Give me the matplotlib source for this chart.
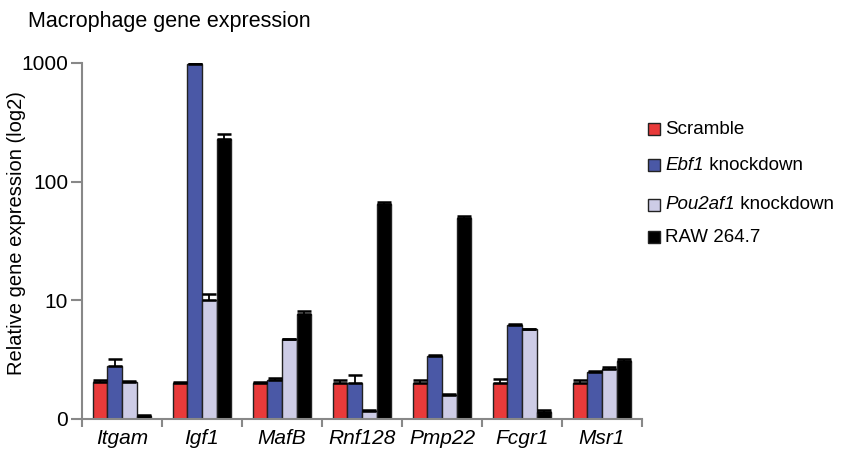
import numpy as np
import matplotlib
matplotlib.use('Agg')
import matplotlib.pyplot as plt
from matplotlib.patches import Rectangle

plt.rcParams['font.family'] = ['Liberation Sans', 'DejaVu Sans']

# Genes and measured fold expression (upper error only)
genes = ['Itgam', 'Igf1', 'MafB', 'Rnf128', 'Pmp22', 'Fcgr1', 'Msr1']
# (italic gene part, plain remainder)
conditions = [('', 'Scramble'), ('Ebf1', ' knockdown'),
              ('Pou2af1', ' knockdown'), ('', 'RAW 264.7')]

scramble = [2.04, 2.00, 2.02, 2.01, 2.02, 2.01, 2.01]
ebf1_kd = [2.80, 985, 2.13, 2.01, 3.38, 6.15, 2.50]
pou2af1_kd = [2.07, 10.0, 4.69, 1.17, 1.59, 5.70, 2.65]
raw264 = [1.07, 228, 7.67, 64.7, 49.1, 1.15, 3.08]

scramble_err = [0.08, 0.06, 0.04, 0.13, 0.10, 0.16, 0.12]
ebf1_err = [0.38, 8, 0.08, 0.34, 0.10, 0.20, 0.04]
pou2af1_err = [0.03, 1.3, 0.04, 0.03, 0.03, 0.04, 0.09]
raw264_err = [0.02, 22, 0.41, 2.3, 2.5, 0.05, 0.14]

yticks = [1, 10, 100, 1000]
ytick_labels = ['0', '10', '100', '1000']

colors = ['#e83a3a', '#4a58a6', '#cdcce6', '#000000']

W, H = 841, 455
fig = plt.figure(figsize=(W / 100, H / 100), dpi=100)
ax = fig.add_axes([82 / W, (H - 419) / H, 560 / W, (419 - 63) / H])

x = np.arange(len(genes))
bw = 0.183
series = [scramble, ebf1_kd, pou2af1_kd, raw264]
errs = [scramble_err, ebf1_err, pou2af1_err, raw264_err]
for i, (vals, err, c) in enumerate(zip(series, errs, colors)):
    pos = x + (i - 1.5) * bw
    ax.bar(pos, vals, width=bw, color=c, edgecolor='#222222', linewidth=1.0, zorder=2)
    ax.errorbar(pos, vals, yerr=[np.zeros(len(err)), err], fmt='none',
                ecolor='black', elinewidth=1.3, capsize=5, capthick=1.8, zorder=3)

ax.set_yscale('log')
ax.set_ylim(1, 1000)
ax.set_xlim(-0.5, len(genes) - 0.5)
ax.set_yticks(yticks)
ax.set_yticklabels(ytick_labels)
ax.yaxis.set_minor_locator(matplotlib.ticker.NullLocator())

# category labels centred, ticks on the boundaries
ax.set_xticks(x)
ax.set_xticklabels(genes, style='italic', fontsize=15)
ax.tick_params(axis='x', length=0, pad=7)
ax.set_xticks(np.arange(-0.5, len(genes), 1), minor=True)
ax.tick_params(axis='x', which='minor', length=6, width=1.5, color='#888888')
ax.tick_params(axis='y', length=8, width=1.5, color='#888888', labelsize=15, pad=2)

for side in ['top', 'right']:
    ax.spines[side].set_visible(False)
for side in ['left', 'bottom']:
    ax.spines[side].set_color('#888888')
    ax.spines[side].set_linewidth(1.5)

ax.set_ylabel('Relative gene expression (log2)', fontsize=14.5)
ax.yaxis.set_label_coords(-0.1, 0.522)
fig.text(28 / W, 1 - 22 / H, 'Macrophage gene expression', fontsize=15.5, va='center')

# legend entries with hand-set spacing
renderer = fig.canvas.get_renderer()
legend_y = [129, 165, 205, 237]
for (gene, rest), c, yy in zip(conditions, colors, legend_y):
    fig.add_artist(Rectangle((648 / W, 1 - (yy + 6) / H), 12 / W, 12 / H,
                             transform=fig.transFigure, facecolor=c,
                             edgecolor='#222222', linewidth=1.0))
    x0 = 665 / W
    if gene:
        t = fig.text(x0, 1 - yy / H, gene, fontsize=13.5, style='italic', va='center')
        x0 += t.get_window_extent(renderer).width / W
    fig.text(x0, 1 - yy / H, rest, fontsize=13.5, va='center')

fig.savefig('out.png', dpi=100)
